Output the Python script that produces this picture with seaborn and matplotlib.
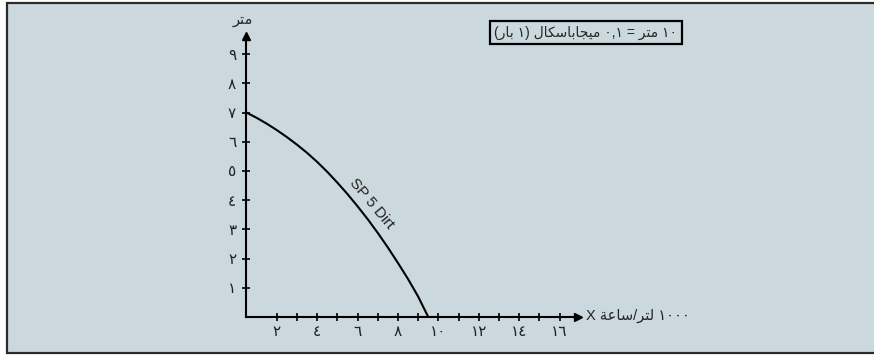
import numpy as np
import pandas as pd
import matplotlib
matplotlib.use("Agg")
import matplotlib.pyplot as plt
import seaborn as sns
from matplotlib.patches import Rectangle

# === Data ===
flow = [0.5, 1.0, 1.5, 2.0, 2.5, 3.0, 3.5, 4.0, 4.5, 5.0, 5.5, 6.0, 6.5, 7.0, 7.5, 8.0, 8.5, 9.0, 9.5]
head = [7.00, 6.82, 6.62, 6.40, 6.16, 5.90, 5.62, 5.31, 4.97, 4.60, 4.21, 3.79, 3.35, 2.88, 2.38, 1.85, 1.30, 0.70, 0.00]
x_major = [2, 4, 6, 8, 10, 12, 14, 16]
x_minor = [3, 5, 7, 9, 11, 13, 15]
y_major = [1, 2, 3, 4, 5, 6, 7, 8, 9]
x_tick_labels = ["٢", "٤", "٦", "٨", "١٠", "١٢", "١٤", "١٦"]
y_tick_labels = ["١", "٢", "٣", "٤", "٥", "٦", "٧", "٨", "٩"]
curve_name = "SP 5 Dirt"

# === tiny arabic shaper (matplotlib has no shaping / bidi) ===
FORMS = {
    "ا": ("\uFE8D", "\uFE8E", None, None),
    "ب": ("\uFE8F", "\uFE90", "\uFE91", "\uFE92"),
    "ة": ("\uFE93", "\uFE94", None, None),
    "ت": ("\uFE95", "\uFE96", "\uFE97", "\uFE98"),
    "ج": ("\uFE9D", "\uFE9E", "\uFE9F", "\uFEA0"),
    "ر": ("\uFEAD", "\uFEAE", None, None),
    "س": ("\uFEB1", "\uFEB2", "\uFEB3", "\uFEB4"),
    "ع": ("\uFEC9", "\uFECA", "\uFECB", "\uFECC"),
    "ك": ("\uFED9", "\uFEDA", "\uFEDB", "\uFEDC"),
    "ل": ("\uFEDD", "\uFEDE", "\uFEDF", "\uFEE0"),
    "م": ("\uFEE1", "\uFEE2", "\uFEE3", "\uFEE4"),
    "ي": ("\uFEF1", "\uFEF2", "\uFEF3", "\uFEF4"),
}


def dual(ch):
    return ch in FORMS and FORMS[ch][2] is not None


def shape(word):
    out = []
    for i, ch in enumerate(word):
        if ch not in FORMS:
            out.append(ch)
            continue
        prev_j = i > 0 and dual(word[i - 1])
        next_j = i < len(word) - 1 and word[i + 1] in FORMS and dual(ch)
        iso, fin, ini, med = FORMS[ch]
        if prev_j and next_j:
            out.append(med)
        elif prev_j:
            out.append(fin)
        elif next_j:
            out.append(ini)
        else:
            out.append(iso)
    return "".join(out[::-1])


y_label = shape("متر")
x_label = "X " + shape("ساعة") + "/" + shape("لتر") + " ١٠٠٠"
note = "(" + shape("بار") + " ١) " + shape("ميجاباسكال") + " ٠,١ = " + shape("متر") + " ١٠"

# === Style ===
sns.set_style("ticks")
plt.rcParams["font.family"] = ["Liberation Sans", "DejaVu Sans"]
bg = "#cbd8de"

fig = plt.figure(figsize=(8.74, 3.56), dpi=100)
fig.patch.set_facecolor("white")
panel = Rectangle((7 / 874, 3 / 356), 1.0, 350 / 356, transform=fig.transFigure,
                  facecolor=bg, edgecolor="#2b2b2b", linewidth=1.6, zorder=-10)
fig.patches.append(panel)

ax = fig.add_axes([236.3 / 874, 39.1 / 356, 17.5 * 20.2 / 874, 9.8 * 29.2 / 356])
ax.set_facecolor("none")
ax.set_xlim(0, 17.5)
ax.set_ylim(0, 9.8)

df = pd.DataFrame({"flow": flow, "head": head})
sns.lineplot(data=df, x="flow", y="head", color="black", linewidth=1.5, ax=ax)

# axes with arrows
for s in ["top", "right"]:
    ax.spines[s].set_visible(False)
ax.spines["left"].set_position(("data", 0.48))
ax.spines["left"].set_bounds(0, 9.6)
ax.spines["bottom"].set_bounds(0.48, 16.9)
for s in ["left", "bottom"]:
    ax.spines[s].set_linewidth(1.5)
    ax.spines[s].set_color("black")
ax.plot([16.92], [0], marker=">", ms=6, color="black", clip_on=False)
ax.plot([0.48], [9.62], marker="^", ms=6, color="black", clip_on=False)

ax.set_xticks(x_major)
ax.set_xticks(x_minor, minor=True)
ax.set_xticklabels(x_tick_labels, fontsize=11)
ax.set_yticks(y_major)
ax.set_yticklabels(y_tick_labels, fontsize=11)
ax.tick_params(which="both", direction="inout", length=6, width=1.2, color="black", labelcolor="#222222")
ax.tick_params(axis="x", pad=3)
ax.tick_params(axis="y", pad=4)
ax.set_xlabel("")
ax.set_ylabel("")

ax.text(0.33, 10.17, y_label, ha="center", va="center", fontsize=10.5, clip_on=False)
ax.text(17.3, 0.03, x_label, ha="left", va="center", fontsize=10.5, clip_on=False)
ax.text(6.68, 3.86, curve_name, rotation=-50, rotation_mode="anchor", ha="center", va="center",
        fontsize=11, color="#222222")

fig.text(586 / 874, 1 - 32.5 / 356, note, ha="center", va="center", fontsize=10,
         bbox=dict(boxstyle="square,pad=0.3", facecolor="none", edgecolor="black", linewidth=1.6))

fig.savefig("out.png", dpi=100, facecolor=fig.get_facecolor())
